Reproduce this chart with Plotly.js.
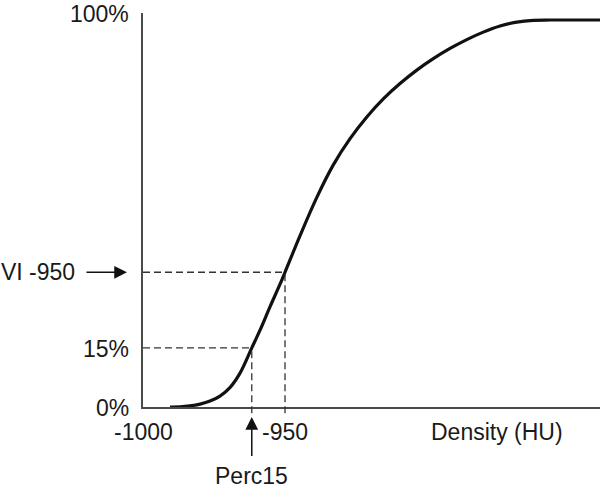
<!DOCTYPE html>
<html>
<head>
<meta charset="utf-8">
<script src="https://cdn.plot.ly/plotly-3.0.1.min.js"></script>
<style>html,body{margin:0;padding:0;background:#fff;}#chart{width:600px;height:489px;}</style>
</head>
<body>
<div id="chart"></div>
<script>
// Cumulative density distribution (HU vs % of voxels)
const densityHU = [-990.5, -987.0, -983.45, -979.9, -976.4, -972.9, -969.4, -965.85, -961.7, -958.8,
                   -955.3, -951.8, -950.0, -944.7, -938.8, -933.0, -927.1, -921.2, -915.4, -909.5,
                   -903.6, -897.8, -891.9, -886.0, -880.2, -874.3, -868.4, -862.6, -856.7, -839.1];
const cumulativePct = [0.0, 0.03, 0.28, 0.74, 1.5, 2.77, 4.92, 8.6, 15.0, 19.5,
                       25.4, 31.1, 34.2, 43.5, 53.2, 61.45, 68.1, 73.6, 78.2, 82.1,
                       85.5, 88.4, 91.0, 93.25, 95.15, 96.7, 97.7, 98.15, 98.22, 98.22];
const xTickValues = [-1000, -950];
const xTickLabels = ['-1000', '-950'];
const yTickValues = [0, 15, 100];
const yTickLabels = ['0%', '15%', '100%'];
const perc15Value = -961.7;   // HU at 15th percentile
const perc15Level = 15;       // %
const vi950Level = 34.2;      // % of voxels below -950 HU
const vi950HU = -950;
const xRange = [-1000, -839.1];
const yRange = [0, 100];

const fontFam = '"Liberation Sans", Arial, Helvetica, sans-serif';
const txtColor = '#1a1a1a';
const fs = 23;

const trace = {
  x: densityHU, y: cumulativePct, type: 'scatter', mode: 'lines',
  line: {color: '#111', width: 3.2, shape: 'spline', smoothing: 1},
  hoverinfo: 'skip'
};

const toPaperY = v => (v - yRange[0]) / (yRange[1] - yRange[0]);
const dash = {color: '#333', width: 1.3, dash: '7px,4px'};

const shapes = [
  {type: 'line', xref: 'x', yref: 'y', x0: xRange[0], x1: perc15Value, y0: perc15Level, y1: perc15Level, line: dash},
  {type: 'line', xref: 'x', yref: 'y', x0: xRange[0], x1: vi950HU, y0: vi950Level, y1: vi950Level, line: dash},
  {type: 'line', xref: 'x', yref: 'paper', x0: perc15Value, x1: perc15Value, y0: -0.016, y1: toPaperY(perc15Level), line: dash},
  {type: 'line', xref: 'x', yref: 'paper', x0: vi950HU, x1: vi950HU, y0: -0.016, y1: toPaperY(vi950Level), line: dash}
];

const annotations = [];
yTickValues.forEach((v, i) => {
  annotations.push({xref: 'paper', yref: 'y', x: 0, y: v, xanchor: 'right', yanchor: 'middle',
    xshift: -12, yshift: -1, text: yTickLabels[i], showarrow: false,
    font: {family: fontFam, size: fs, color: txtColor}});
});
xTickValues.forEach((v, i) => {
  annotations.push({xref: 'x', yref: 'paper', x: v, y: 0, xanchor: 'center', yanchor: 'middle',
    yshift: -25, text: xTickLabels[i], showarrow: false,
    font: {family: fontFam, size: fs, color: txtColor}});
});
annotations.push({xref: 'paper', yref: 'paper', x: (497 - 143) / 457, y: 0, xanchor: 'center', yanchor: 'middle',
  yshift: -25, text: 'Density (HU)', showarrow: false, font: {family: fontFam, size: fs, color: txtColor}});
annotations.push({xref: 'paper', yref: 'y', x: 0, y: vi950Level, xanchor: 'left', yanchor: 'middle',
  xshift: -144, text: 'VI -950', showarrow: false, font: {family: fontFam, size: fs, color: txtColor}});
annotations.push({xref: 'paper', yref: 'y', x: 0, y: vi950Level, xshift: -16, text: ' ',
  showarrow: true, axref: 'pixel', ayref: 'pixel', ax: -42, ay: 0, arrowhead: 2, arrowsize: 1.7,
  arrowwidth: 1.5, arrowcolor: '#111', font: {size: 1}, standoff: 0});
annotations.push({xref: 'x', yref: 'paper', x: perc15Value, y: 0, yshift: -10, text: ' ',
  showarrow: true, axref: 'pixel', ayref: 'pixel', ax: 0, ay: 41, arrowhead: 2, arrowsize: 1.7,
  arrowwidth: 1.5, arrowcolor: '#111', font: {size: 1}, standoff: 0});
annotations.push({xref: 'x', yref: 'paper', x: perc15Value, y: 0, xanchor: 'center', yanchor: 'middle',
  yshift: -69, text: 'Perc15', showarrow: false, font: {family: fontFam, size: fs, color: txtColor}});

const layout = {
  width: 600, height: 489,
  margin: {l: 143, r: 0, t: 13, b: 82, pad: 0},
  paper_bgcolor: '#fff', plot_bgcolor: '#fff',
  showlegend: false,
  xaxis: {range: xRange, showgrid: false, zeroline: false, showticklabels: false, ticks: '',
          showline: true, linecolor: '#4a4a4a', linewidth: 2, fixedrange: true},
  yaxis: {range: yRange, showgrid: false, zeroline: false, showticklabels: false, ticks: '',
          showline: true, linecolor: '#4a4a4a', linewidth: 2, fixedrange: true},
  shapes: shapes,
  annotations: annotations
};

Plotly.newPlot('chart', [trace], layout, {staticPlot: true, displayModeBar: false});
</script>
</body>
</html>
